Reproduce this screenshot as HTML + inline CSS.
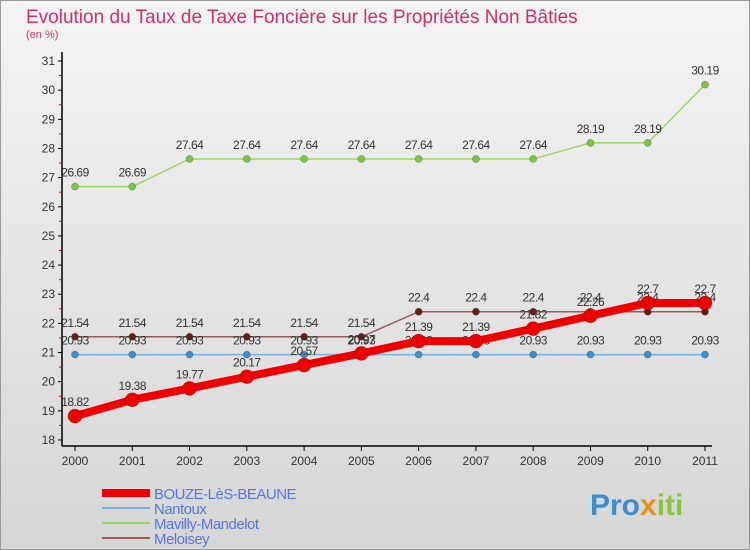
<!DOCTYPE html>
<html><head><meta charset="utf-8"><style>
body{margin:0;width:750px;height:550px;overflow:hidden;font-family:"Liberation Sans",sans-serif}
</style></head><body>
<svg id="c" width="750" height="550" style="display:block">
<defs><linearGradient id="bg" x1="0" y1="0" x2="0" y2="1"><stop offset="0" stop-color="#f3f3f3"/><stop offset="1" stop-color="#d6d6d6"/></linearGradient></defs>
<rect width="750" height="550" fill="url(#bg)"/>
<rect x="0.5" y="0.5" width="749" height="549" fill="none" stroke="#999"/>
<text x="26" y="23" font-size="19" fill="#d0306a">Evolution du Taux de Taxe Foncière sur les Propriétés Non Bâties</text>
<text x="26" y="38" font-size="11" fill="#d0306a">(en %)</text>
<g id="g"></g>
<text x="590" y="515" font-size="30" font-weight="bold" fill="#3a8fd0">Pro<tspan fill="#e8901a">x</tspan><tspan fill="#8bc53f">iti</tspan></text>
</svg>
<script>
const years=[2000,2001,2002,2003,2004,2005,2006,2007,2008,2009,2010,2011];
const yTicks=[18,19,20,21,22,23,24,25,26,27,28,29,30,31];
const bouze=[18.82,19.38,19.77,20.17,20.57,20.97,21.39,21.39,21.82,22.26,22.7,22.7];
const nantoux=[20.93,20.93,20.93,20.93,20.93,20.93,20.93,20.93,20.93,20.93,20.93,20.93];
const mavilly=[26.69,26.69,27.64,27.64,27.64,27.64,27.64,27.64,27.64,28.19,28.19,30.19];
const meloisey=[21.54,21.54,21.54,21.54,21.54,21.54,22.4,22.4,22.4,22.4,22.4,22.4];
const NS='http://www.w3.org/2000/svg',g=document.getElementById('g');
const X=i=>75+i*(630/11), Y=v=>440-(v-18)*(379/13);
function el(t,a,p){const e=document.createElementNS(NS,t);for(const k in a)e.setAttribute(k,a[k]);(p||g).appendChild(e);return e;}
let ax=el('path',{d:'M62 52V446M62 446H712',stroke:'#000','stroke-width':1.5,fill:'none'});


yTicks.forEach(v=>{
 el('line',{x1:58,x2:62,y1:Y(v),y2:Y(v),stroke:'#000'});
 if(v<31)el('line',{x1:59,x2:62,y1:Y(v+0.5),y2:Y(v+0.5),stroke:'#e00'});
 const t=el('text',{x:55,y:Y(v)+4,'font-size':12,fill:'#333','text-anchor':'end'});t.textContent=v;
 
 
});
years.forEach((y,i)=>{
 el('line',{x1:X(i),x2:X(i),y1:446,y2:451,stroke:'#000'});
 const t=el('text',{x:X(i),y:465,'font-size':12,fill:'#333','text-anchor':'middle'});t.textContent=y;
 
 
});
const series=[
 {n:'mavilly',d:mavilly,c:'#9ad860',pc:'#7cc640',w:1.5,r:3.5},
 {n:'meloisey',d:meloisey,c:'#9a5a5a',pc:'#6a1a1a',w:1.5,r:3.5},
 {n:'nantoux',d:nantoux,c:'#7ab0dc',pc:'#3a8fd0',w:1.5,r:3.5},
 {n:'bouze',d:bouze,c:'#ee0000',pc:'#ee0000',w:8,r:7}];
series.forEach(s=>{
 const l=el('polyline',{points:s.d.map((v,i)=>X(i)+','+Y(v)).join(' '),fill:'none',stroke:s.c,'stroke-width':s.w});
 
 
 s.d.forEach((v,i)=>{
  const p=el('circle',{cx:X(i),cy:Y(v),r:s.r,fill:s.pc,stroke:'#0003'});
  
  
  const t=el('text',{x:X(i),y:Y(v)-10,'font-size':12,fill:'#333','text-anchor':'middle','letter-spacing':'-0.5'});t.textContent=v;
  
  
 });
});
const leg=[['BOUZE-LèS-BEAUNE','#ee0000',8],['Nantoux','#7ab0dc',2],['Mavilly-Mandelot','#9ad860',2],['Meloisey','#9a5a5a',2]];
leg.forEach((e,i)=>{
 const y=493+i*15;
 el('line',{x1:102,x2:150,y1:y,y2:y,stroke:e[1],'stroke-width':e[2]});
 const t=el('text',{x:154,y:y+6,'font-size':15,fill:'#5577dd','letter-spacing':'-0.5'});t.textContent=e[0];
 
 
});
</script>
</body></html>
